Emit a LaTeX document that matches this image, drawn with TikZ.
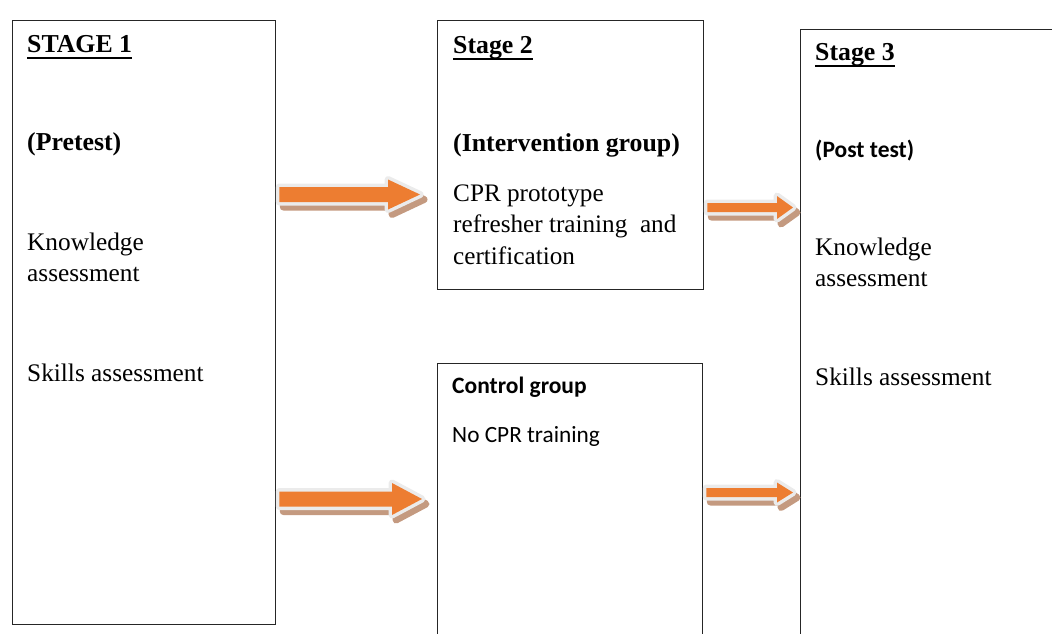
\documentclass[tikz,border=0pt]{standalone}
\usepackage{fontspec}
\setmainfont{Liberation Serif}
\newfontfamily\calibrifont{Carlito}
\newcommand*\stageul[1]{\leavevmode\setbox0=\hbox{#1}\rlap{\rule[-6.5pt]{\wd0}{1.8pt}}\box0}
\usetikzlibrary{calc}
\definecolor{arroworange}{HTML}{ED7D31}
\definecolor{arrowbrown}{HTML}{C49A80}
\definecolor{arrowrim}{HTML}{EBEBEB}
\tikzset{
    stagebox/.style = {draw=black!85,line width=1.3pt,anchor=north west,inner sep=0},
    txt/.style = {anchor=base west,inner sep=0,align=left},
    headtext/.style = {font=\fontsize{25.8}{31}\selectfont\bfseries},
    bodytext/.style = {font=\fontsize{25.3}{31}\selectfont},
    bigtext/.style = {font=\fontsize{25.2}{31.5}\selectfont},
    calhead/.style = {font=\fontsize{23.5}{28}\selectfont\calibrifont\bfseries},
    calbody/.style = {font=\fontsize{23.3}{28}\selectfont\calibrifont},
    arrshadow/.style = {fill=arrowbrown,draw=arrowbrown,line width=7pt,line join=round,transform canvas={shift={(4,5)}}},
    rim/.style = {fill=arrowrim,draw=arrowrim,line width=7pt,line join=round},
    arrfill/.style = {fill=arroworange}
}
\begin{document}
\begin{tikzpicture}[x=1pt,y=-1pt]
        % tail, tip, shaft half height, head half height, head length
        \newcommand*\fatarrow[5]{%
            \coordinate (tl) at #1;
            \coordinate (tp) at #2;
            \foreach \sty in {arrshadow,rim,arrfill}
                \path[\sty] (tl) ++(0,-#3) -- ($(tp)+(-#5,-#3)$) -- ($(tp)+(-#5,-#4)$)
                    -- (tp) -- ($(tp)+(-#5,#4)$) -- ($(tp)+(-#5,#3)$) -- ($(tl)+(0,#3)$) -- cycle;
        }
        \path[use as bounding box,clip] (0,0) rectangle (1052,633);
        % Stages
        \node[stagebox,minimum width=263,minimum height=604] (s1) at (12,20) {};
        \node[stagebox,minimum width=266,minimum height=269] (s2) at (437,20) {};
        \node[stagebox,minimum width=265,minimum height=300] (ctrl) at (437,363) {};
        \node[stagebox,minimum width=300,minimum height=650] (s3) at (800,29) {};
        % Stage 1 (base of a two line text is its last line)
        \path (s1.north west)
            ++(15,32) node[txt,headtext] (s1title) {\stageul{STAGE 1}}
            ++(0,98) node[txt,headtext] (pre) {(Pretest)}
            ++(0,131) node[txt,bodytext] (know1) {Knowledge\\assessment}
            ++(0,100) node[txt,bodytext] (skill1) {Skills assessment}
        ;
        % Stage 2
        \path (s2.north west)
            ++(16,33) node[txt,headtext] (s2title) {\stageul{Stage 2}}
            ++(0,98) node[txt,headtext] (interv) {(Intervention group)}
            ++(0,113) node[txt,bigtext] (cpr) {CPR prototype\\refresher training~ and\\certification}
        ;
        \path (ctrl.north west)
            ++(15,30) node[txt,calhead] (ctitle) {Control group}
            ++(0,49) node[txt,calbody] (nocpr) {No CPR training}
        ;
        % Stage 3
        \path (s3.north west)
            ++(15,31) node[txt,headtext] (s3title) {\stageul{Stage 3}}
            ++(0,97) node[txt,calhead] (post) {(Post test)}
            ++(0,129) node[txt,bodytext] (know3) {Knowledge\\assessment}
            ++(0,99) node[txt,bodytext] (skill3) {Skills assessment}
        ;
        % Arrows
        \fatarrow{($(s1.east |- 0,194.5)+(3,0)$)}{($(s2.west |- 0,194.5)+(-17,0)$)}{7.5}{15}{32}
        \fatarrow{($(s1.east |- 0,499)+(3,0)$)}{($(ctrl.west |- 0,499)+(-15,0)$)}{7.5}{16}{30}
        \fatarrow{($(s2.east |- 0,207.5)+(3,0)$)}{($(s3.west |- 0,207.5)+(-7,0)$)}{4.5}{11.5}{16}
        \fatarrow{($(ctrl.east |- 0,492.5)+(3,0)$)}{($(s3.west |- 0,492.5)+(-7,0)$)}{4.5}{10}{16}
    \end{tikzpicture}
\end{document}
